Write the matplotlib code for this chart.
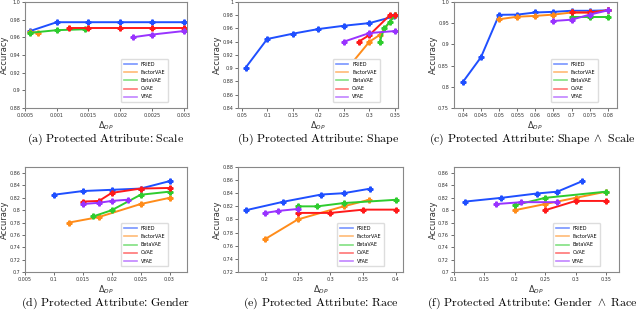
import matplotlib
matplotlib.use('Agg')
import matplotlib.pyplot as plt
from matplotlib.lines import Line2D

methods = ['FRIED', 'FactorVAE', 'BetaVAE', 'CVAE', 'VFAE']
colors = ['#1f4fff', '#ff8c1a', '#2ecc2e', '#ff1a1a', '#9933ff']

# (a) Scale
scale_x = {
    'FRIED': [0.00058, 0.001, 0.0015, 0.002, 0.0025, 0.003],
    'FactorVAE': [0.00058, 0.0007],
    'BetaVAE': [0.00058, 0.001, 0.00144],
    'CVAE': [0.0012, 0.0015, 0.002, 0.0025, 0.003],
    'VFAE': [0.0022, 0.0025, 0.003],
}
scale_y = {
    'FRIED': [0.967, 0.977, 0.977, 0.977, 0.977, 0.977],
    'FactorVAE': [0.966, 0.965],
    'BetaVAE': [0.965, 0.968, 0.969],
    'CVAE': [0.970, 0.970, 0.970, 0.970, 0.970],
    'VFAE': [0.960, 0.963, 0.967],
}

# (b) Shape
shape_x = {
    'FRIED': [0.058, 0.1, 0.15, 0.2, 0.25, 0.3, 0.348],
    'FactorVAE': [0.268, 0.3, 0.32, 0.35],
    'BetaVAE': [0.32, 0.329, 0.34, 0.35],
    'CVAE': [0.279, 0.3, 0.34, 0.35],
    'VFAE': [0.25, 0.3, 0.35],
}
shape_y = {
    'FRIED': [0.901, 0.944, 0.952, 0.959, 0.964, 0.968, 0.978],
    'FactorVAE': [0.91, 0.94, 0.95, 0.98],
    'BetaVAE': [0.94, 0.96, 0.97, 0.98],
    'CVAE': [0.94, 0.95, 0.98, 0.98],
    'VFAE': [0.94, 0.953, 0.956],
}

# (c) Shape ^ Scale
ss_ticks = [0.04, 0.045, 0.05, 0.055, 0.06, 0.065, 0.07, 0.075, 0.08]
ss_labels = ['0.04', '0.045', '0.05', '0.055', '0.06', '0.065', '0.7', '0.075', '0.08']
ss_x = {
    'FRIED': [0.04, 0.045, 0.05, 0.055, 0.06, 0.065, 0.07, 0.075, 0.08],
    'FactorVAE': [0.05, 0.055, 0.06, 0.065, 0.07, 0.075, 0.08],
    'BetaVAE': [0.07, 0.075, 0.08],
    'CVAE': [0.07, 0.075, 0.08],
    'VFAE': [0.065, 0.07, 0.075, 0.08],
}
ss_y = {
    'FRIED': [0.811, 0.8695, 0.9695, 0.970, 0.975, 0.9765, 0.979, 0.979, 0.980],
    'FactorVAE': [0.959, 0.965, 0.967, 0.970, 0.975, 0.975, 0.980],
    'BetaVAE': [0.965, 0.965, 0.965],
    'CVAE': [0.975, 0.975, 0.980],
    'VFAE': [0.955, 0.958, 0.970, 0.980],
}

# (d) Gender
gender_ticks = [0.005, 0.01, 0.015, 0.02, 0.025, 0.03]
gender_labels = ['0.005', '0.1', '0.015', '0.02', '0.025', '0.03']
gender_x = {
    'FRIED': [0.01, 0.015, 0.02, 0.025, 0.03],
    'FactorVAE': [0.0126, 0.0178, 0.025, 0.03],
    'BetaVAE': [0.0168, 0.02, 0.025, 0.03],
    'CVAE': [0.015, 0.0178, 0.02, 0.025, 0.03],
    'VFAE': [0.015, 0.0178, 0.02, 0.0228],
}
gender_y = {
    'FRIED': [0.825, 0.831, 0.833, 0.835, 0.847],
    'FactorVAE': [0.780, 0.789, 0.810, 0.820],
    'BetaVAE': [0.790, 0.800, 0.825, 0.830],
    'CVAE': [0.814, 0.815, 0.828, 0.835, 0.836],
    'VFAE': [0.810, 0.812, 0.815, 0.817],
}

# (e) Race
race_ticks = [0.2, 0.25, 0.3, 0.35, 0.4]
race_labels = ['0.2', '0.25', '0.3', '0.35', '0.4']
race_x = {
    'FRIED': [0.1705, 0.228, 0.286, 0.32, 0.361],
    'FactorVAE': [0.2, 0.25, 0.32, 0.359],
    'BetaVAE': [0.25, 0.28, 0.32, 0.4],
    'CVAE': [0.25, 0.3, 0.35, 0.4],
    'VFAE': [0.2, 0.22, 0.25],
}
race_y = {
    'FRIED': [0.814, 0.827, 0.838, 0.840, 0.847],
    'FactorVAE': [0.770, 0.800, 0.820, 0.830],
    'BetaVAE': [0.820, 0.820, 0.825, 0.830],
    'CVAE': [0.810, 0.810, 0.815, 0.815],
    'VFAE': [0.810, 0.813, 0.816],
}

# (f) Gender ^ Race
gr_x = {
    'FRIED': [0.119, 0.178, 0.236, 0.27, 0.311],
    'FactorVAE': [0.2, 0.25, 0.3, 0.35],
    'BetaVAE': [0.2, 0.25, 0.35],
    'CVAE': [0.25, 0.3, 0.35],
    'VFAE': [0.17, 0.211, 0.27],
}
gr_y = {
    'FRIED': [0.814, 0.820, 0.827, 0.830, 0.847],
    'FactorVAE': [0.800, 0.810, 0.820, 0.830],
    'BetaVAE': [0.808, 0.820, 0.830],
    'CVAE': [0.800, 0.815, 0.815],
    'VFAE': [0.810, 0.813, 0.813],
}

captions = [
    r'$\mathrm{(a)\ Protected\ Attribute\colon\ Scale}$',
    r'$\mathrm{(b)\ Protected\ Attribute\colon\ Shape}$',
    r'$\mathrm{(c)\ Protected\ Attribute\colon\ Shape}\ \wedge\ \mathrm{Scale}$',
    r'$\mathrm{(d)\ Protected\ Attribute\colon\ Gender}$',
    r'$\mathrm{(e)\ Protected\ Attribute\colon\ Race}$',
    r'$\mathrm{(f)\ Protected\ Attribute\colon\ Gender}\ \wedge\ \mathrm{Race}$',
]

# axes boxes in figure fraction (left, bottom, width, height)
boxes = [
    (0.039, 0.654, 0.253, 0.340),
    (0.372, 0.654, 0.250, 0.340),
    (0.709, 0.654, 0.255, 0.340),
    (0.039, 0.128, 0.253, 0.337),
    (0.372, 0.128, 0.258, 0.337),
    (0.709, 0.128, 0.258, 0.337),
]

panels = [
    (scale_x, scale_y, (0.0005, 0.00305), (0.88, 1.0),
     [0.0005, 0.001, 0.0015, 0.002, 0.0025, 0.003],
     ['0.0005', '0.001', '0.0015', '0.002', '0.0025', '0.003'],
     [0.88, 0.9, 0.92, 0.94, 0.96, 0.98, 1.0],
     ['0.88', '0.9', '0.92', '0.94', '0.96', '0.98', '1.0']),
    (shape_x, shape_y, (0.043, 0.356), (0.84, 1.0),
     [0.05, 0.1, 0.15, 0.2, 0.25, 0.3, 0.35],
     ['0.05', '0.1', '0.15', '0.2', '0.25', '0.3', '0.35'],
     [0.84, 0.86, 0.88, 0.9, 0.92, 0.94, 0.96, 0.98, 1.0],
     ['0.84', '0.86', '0.88', '0.9', '0.92', '0.94', '0.96', '0.98', '1']),
    (ss_x, ss_y, (0.0375, 0.0825), (0.75, 1.0),
     ss_ticks, ss_labels,
     [0.75, 0.8, 0.85, 0.9, 0.95, 1.0],
     ['0.75', '0.8', '0.85', '0.9', '0.95', '1.0']),
    (gender_x, gender_y, (0.005, 0.033), (0.7, 0.87),
     gender_ticks, gender_labels,
     [0.7, 0.72, 0.74, 0.76, 0.78, 0.8, 0.82, 0.84, 0.86],
     ['0.7', '0.72', '0.74', '0.76', '0.78', '0.8', '0.82', '0.84', '0.86']),
    (race_x, race_y, (0.159, 0.411), (0.72, 0.88),
     race_ticks, race_labels,
     [0.72, 0.74, 0.76, 0.78, 0.8, 0.82, 0.84, 0.86, 0.88],
     ['0.72', '0.74', '0.76', '0.78', '0.8', '0.82', '0.84', '0.86', '0.88']),
    (gr_x, gr_y, (0.1, 0.371), (0.7, 0.87),
     [0.1, 0.15, 0.2, 0.25, 0.3, 0.35],
     ['0.1', '0.15', '0.2', '0.25', '0.3', '0.35'],
     [0.7, 0.72, 0.74, 0.76, 0.78, 0.8, 0.82, 0.84, 0.86],
     ['0.7', '0.72', '0.74', '0.76', '0.78', '0.8', '0.82', '0.84', '0.86']),
]

fig = plt.figure(figsize=(6.4, 3.12), dpi=100)

for i, (px, py, xlim, ylim, xt, xtl, yt, ytl) in enumerate(panels):
    ax = fig.add_axes(boxes[i])
    for m, c in zip(methods, colors):
        ax.plot(px[m], py[m], color=c, lw=1.4, marker='P', ms=3.5)
    ax.set_xlim(*xlim)
    ax.set_ylim(*ylim)
    ax.set_xticks(xt)
    ax.set_xticklabels(xtl)
    ax.set_yticks(yt)
    ax.set_yticklabels(ytl)
    ax.tick_params(labelsize=3.5, length=2, width=0.5, pad=1.5, colors='#333333')
    for s in ax.spines.values():
        s.set_color('#888888')
        s.set_linewidth(0.8)
    ax.set_xlabel(r'$\Delta_{DP}$', fontsize=6, labelpad=1, color='#333333')
    ax.set_ylabel('Accuracy', fontsize=6, color='#333333')
    ax.yaxis.set_label_coords(-0.098, 0.5)
    handles = [Line2D([], [], color=c, lw=1.2, alpha=0.6) for c in colors]
    ax.legend(handles, methods, loc='lower right', bbox_to_anchor=(0.9, 0.03),
              fontsize=3.5, handlelength=2.6, borderpad=0.6, labelspacing=0.65,
              framealpha=1, edgecolor='#dddddd')
    l, b, w, h = boxes[i]
    cy = 0.552 if i < 3 else 0.028
    cx = l + w / 2 if i % 3 != 2 else 0.832
    fig.text(cx, cy, captions[i], ha='center', va='center',
             fontsize=8.6, math_fontfamily='cm')

fig.savefig('out.png', dpi=100)
